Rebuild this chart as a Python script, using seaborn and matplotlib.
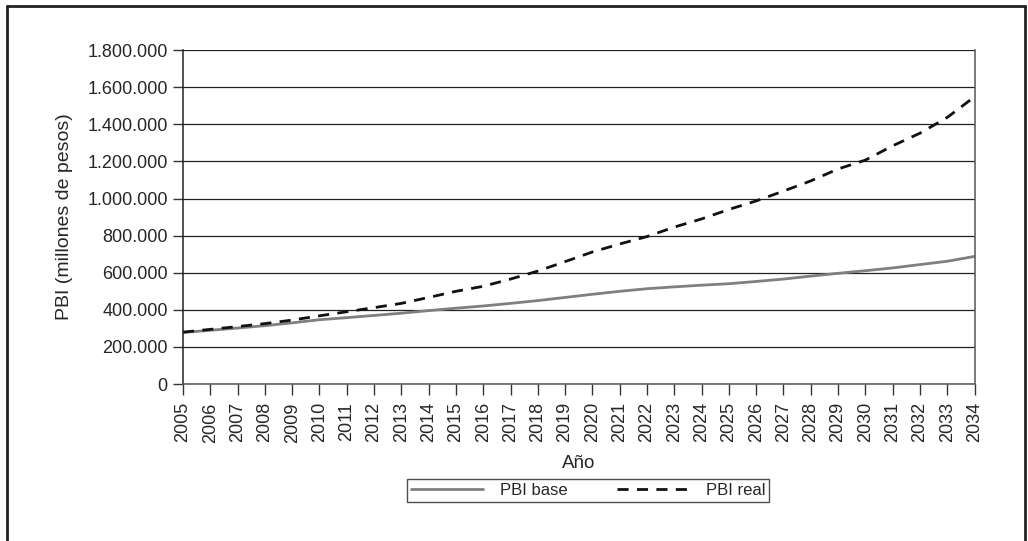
import pandas as pd
import matplotlib
matplotlib.use("Agg")
import matplotlib.pyplot as plt
import seaborn as sns
from matplotlib.ticker import FuncFormatter, MultipleLocator
from matplotlib.lines import Line2D

# data (thousands of pesos)
years = list(range(2005, 2035))
pbi_base = [278, 290, 302, 315, 330, 347, 358, 370, 382, 396,
            409, 421, 435, 450, 467, 484, 500, 514, 524, 533,
            541, 553, 566, 582, 597, 611, 626, 644, 662, 688]
pbi_real = [280, 295, 310, 326, 345, 368, 390, 412, 435, 467,
            500, 527, 566, 609, 660, 712, 755, 795, 846, 890,
            941, 987, 1040, 1095, 1159, 1207, 1284, 1352, 1437, 1548]
series_names = ["PBI base", "PBI real"]

df = pd.DataFrame({"Año": years,
                   "PBI base": [v * 1000 for v in pbi_base],
                   "PBI real": [v * 1000 for v in pbi_real]})

sns.set_style("white")
plt.rcParams['font.family'] = ['Liberation Sans', 'DejaVu Sans']

fig = plt.figure(figsize=(10.28, 5.41), dpi=100)
ax = fig.add_axes([0.178, 0.290, 0.770, 0.6175])

sns.lineplot(data=df, x="Año", y="PBI base", ax=ax, color="#7f7f7f", lw=2.0)
sns.lineplot(data=df, x="Año", y="PBI real", ax=ax, color="#111111", lw=2.0,
             linestyle=(0, (4, 3)))

ax.set_xlim(2005, 2034)
ax.set_ylim(0, 1800000)
ax.xaxis.set_major_locator(MultipleLocator(1))
ax.yaxis.set_major_locator(MultipleLocator(200000))
ax.yaxis.set_major_formatter(FuncFormatter(lambda v, p: f"{int(round(v)):,}".replace(",", ".")))
ax.grid(axis="y", color="#222222", lw=0.9)
ax.set_axisbelow(True)

ax.tick_params(axis="x", which="major", bottom=True, length=8, width=1, color="#333333",
               labelsize=13, rotation=90, pad=5, direction="out")
ax.tick_params(axis="y", which="major", left=True, length=7, width=1, color="#333333",
               labelsize=13, pad=4, direction="out")

for s in ["left", "bottom", "right"]:
    ax.spines[s].set_color("#555555")
    ax.spines[s].set_linewidth(1.1)
ax.spines["left"].set_color("#222222")
ax.spines["top"].set_visible(False)

ax.set_xlabel("Año", fontsize=13.5, labelpad=9)
ax.set_ylabel("PBI (millones de pesos)", fontsize=14, labelpad=10)

handles = [Line2D([], [], color="#7f7f7f", lw=2.0),
           Line2D([], [], color="#111111", lw=2.0, linestyle=(0, (4, 3)))]
leg = ax.legend(handles, series_names, loc="upper center", bbox_to_anchor=(0.512, -0.283),
                ncol=2, frameon=True, fancybox=False, fontsize=12, handlelength=4.3,
                columnspacing=3.0, borderpad=0.25, handletextpad=1.0, borderaxespad=0)
leg.get_frame().set_edgecolor("#222222")
leg.get_frame().set_linewidth(1.0)

# outer frame around the figure
fig.add_artist(Line2D([0.0068, 0.0068], [-0.1, 0.989], color="#222222", lw=2, transform=fig.transFigure))
fig.add_artist(Line2D([0.0068, 0.997], [0.989, 0.989], color="#222222", lw=2, transform=fig.transFigure))
fig.add_artist(Line2D([0.997, 0.997], [-0.1, 0.989], color="#222222", lw=2, transform=fig.transFigure))

fig.savefig("out.png", dpi=100)
